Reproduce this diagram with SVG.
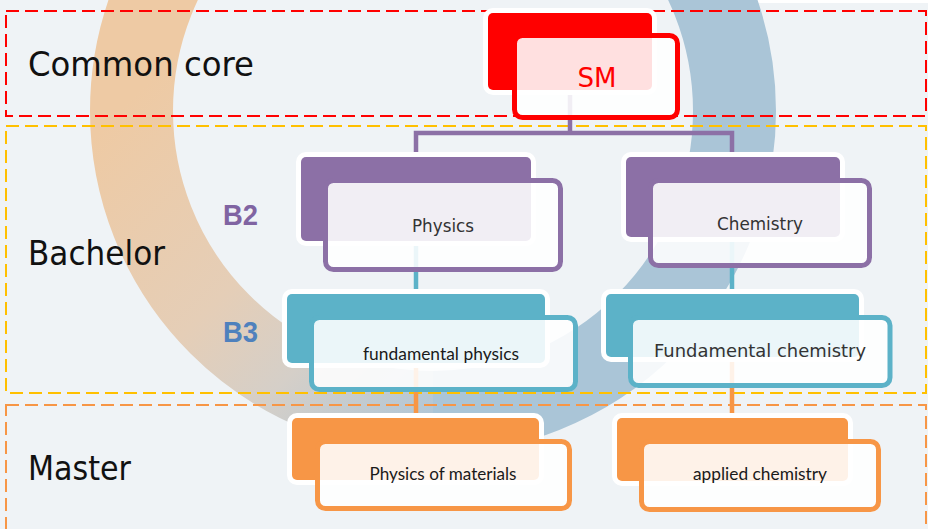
<svg xmlns="http://www.w3.org/2000/svg" width="928" height="529" viewBox="0 0 928 529">
  <defs>
    <linearGradient id="ringL" gradientUnits="userSpaceOnUse" x1="130" y1="100" x2="450" y2="420">
      <stop offset="0" stop-color="#EECAA4"/>
      <stop offset="0.45" stop-color="#E5CEB7"/>
      <stop offset="0.68" stop-color="#D5CFC8"/>
      <stop offset="1" stop-color="#AEC6D8"/>
    </linearGradient>
    <style>
      .sec { font-family: "DejaVu Sans", "Liberation Sans", sans-serif; font-size: 33px; fill: #111; }
      .bl { font-family: "Liberation Sans", Arial, sans-serif; font-weight: 700; font-size: 30px; }
      .gt { font-family: "DejaVu Sans", "Liberation Sans", sans-serif; font-size: 17px; fill: #333; text-anchor: middle; }
      .ct { font-family: Lato, "Liberation Sans", sans-serif; font-size: 16.5px; fill: #1a1a1a; text-anchor: middle; }
      .dash { fill: none; stroke-width: 2; stroke-dasharray: 13 6; }
      .back { stroke: #fff; stroke-width: 10; paint-order: stroke; }
      .front { fill: #fff; fill-opacity: 0.88; stroke-width: 5; }
      .conn { fill: none; stroke-width: 4.5; }
    </style>
  </defs>

  <!-- background -->
  <rect x="0" y="0" width="928" height="529" fill="#EFF3F6"/>
  <rect x="716" y="0" width="212" height="3" fill="#fff"/>
  <g id="ring">
    <path d="M 433 -190.5 A 301.5 301.5 0 0 0 433 412.5" fill="none" stroke="url(#ringL)" stroke-width="83"/>
    <path d="M 433 412.5 A 301.5 301.5 0 0 0 433 -190.5" fill="none" stroke="#AAC5D7" stroke-width="83"/>
  </g>

  <!-- section boxes -->
  <g id="sections">
    <rect class="dash" x="6" y="11" width="920" height="105" stroke="#FF0000"/>
    <rect class="dash" x="6" y="126" width="920" height="267" stroke="#FFC000"/>
    <rect class="dash" x="6" y="405" width="920" height="140" stroke="#F79646"/>
    <text class="sec" x="28" y="76" textLength="226" lengthAdjust="spacingAndGlyphs">Common core</text>
    <text class="sec" x="28" y="265" textLength="137" lengthAdjust="spacingAndGlyphs">Bachelor</text>
    <text class="sec" x="28" y="480" textLength="103" lengthAdjust="spacingAndGlyphs">Master</text>
    <text class="bl" x="223" y="225" fill="#8064A2" textLength="35" lengthAdjust="spacingAndGlyphs">B2</text>
    <text class="bl" x="223" y="342" fill="#4F81BD" textLength="35" lengthAdjust="spacingAndGlyphs">B3</text>
  </g>

  <!-- connectors -->
  <g id="connectors">
    <path class="conn" stroke="#8C70A6" d="M 570 95 V 133 M 416 160 V 133 H 732 V 160"/>
    <path class="conn" stroke="#5CB2C8" d="M 416 240 V 296 M 732 236 V 296"/>
    <path class="conn" stroke="#F79646" d="M 416 362 V 420 M 732 356 V 420"/>
  </g>

  <!-- nodes -->
  <g id="node-sm">
    <rect class="back" x="488" y="13" width="164" height="77" rx="5" fill="#FF0000"/>
    <rect class="front" x="514.5" y="35.5" width="163" height="82" rx="8" stroke="#FF0000"/>
    <text x="597" y="87" font-family="DejaVu Sans, Liberation Sans, sans-serif" font-size="26" fill="#FF0000" text-anchor="middle" textLength="39" lengthAdjust="spacingAndGlyphs">SM</text>
  </g>

  <g id="node-physics">
    <rect class="back" x="301" y="157" width="230" height="84" rx="5" fill="#8C70A6"/>
    <rect class="front" x="325.5" y="180.5" width="235" height="89" rx="8" stroke="#8C70A6"/>
    <text class="gt" x="443" y="232" textLength="62" lengthAdjust="spacingAndGlyphs">Physics</text>
  </g>

  <g id="node-chemistry">
    <rect class="back" x="626" y="157" width="214" height="80" rx="5" fill="#8C70A6"/>
    <rect class="front" x="650.5" y="180.5" width="219" height="85" rx="8" stroke="#8C70A6"/>
    <text class="gt" x="760" y="230" textLength="86" lengthAdjust="spacingAndGlyphs">Chemistry</text>
  </g>

  <g id="node-fund-physics">
    <rect class="back" x="287" y="294" width="258" height="69" rx="5" fill="#5CB2C8"/>
    <rect class="front" x="311.5" y="317.5" width="264" height="72" rx="8" stroke="#5CB2C8"/>
    <text class="ct" x="441" y="360" textLength="156" lengthAdjust="spacingAndGlyphs">fundamental physics</text>
  </g>

  <g id="node-fund-chemistry">
    <rect class="back" x="606" y="294" width="253" height="63" rx="5" fill="#5CB2C8"/>
    <rect class="front" x="630.5" y="317.5" width="259.5" height="68" rx="8" stroke="#5CB2C8"/>
    <text class="gt" x="760" y="357" textLength="212" lengthAdjust="spacingAndGlyphs">Fundamental chemistry</text>
  </g>

  <g id="node-phys-materials">
    <rect class="back" x="292" y="418" width="247" height="62" rx="5" fill="#F79646"/>
    <rect class="front" x="317.5" y="441.5" width="252" height="67" rx="8" stroke="#F79646"/>
    <text class="ct" x="443" y="480" textLength="147" lengthAdjust="spacingAndGlyphs">Physics of materials</text>
  </g>

  <g id="node-applied-chemistry">
    <rect class="back" x="617" y="418" width="231" height="63" rx="5" fill="#F79646"/>
    <rect class="front" x="641.5" y="441.5" width="237" height="68" rx="8" stroke="#F79646"/>
    <text class="ct" x="760" y="480" textLength="134" lengthAdjust="spacingAndGlyphs">applied chemistry</text>
  </g>
</svg>
